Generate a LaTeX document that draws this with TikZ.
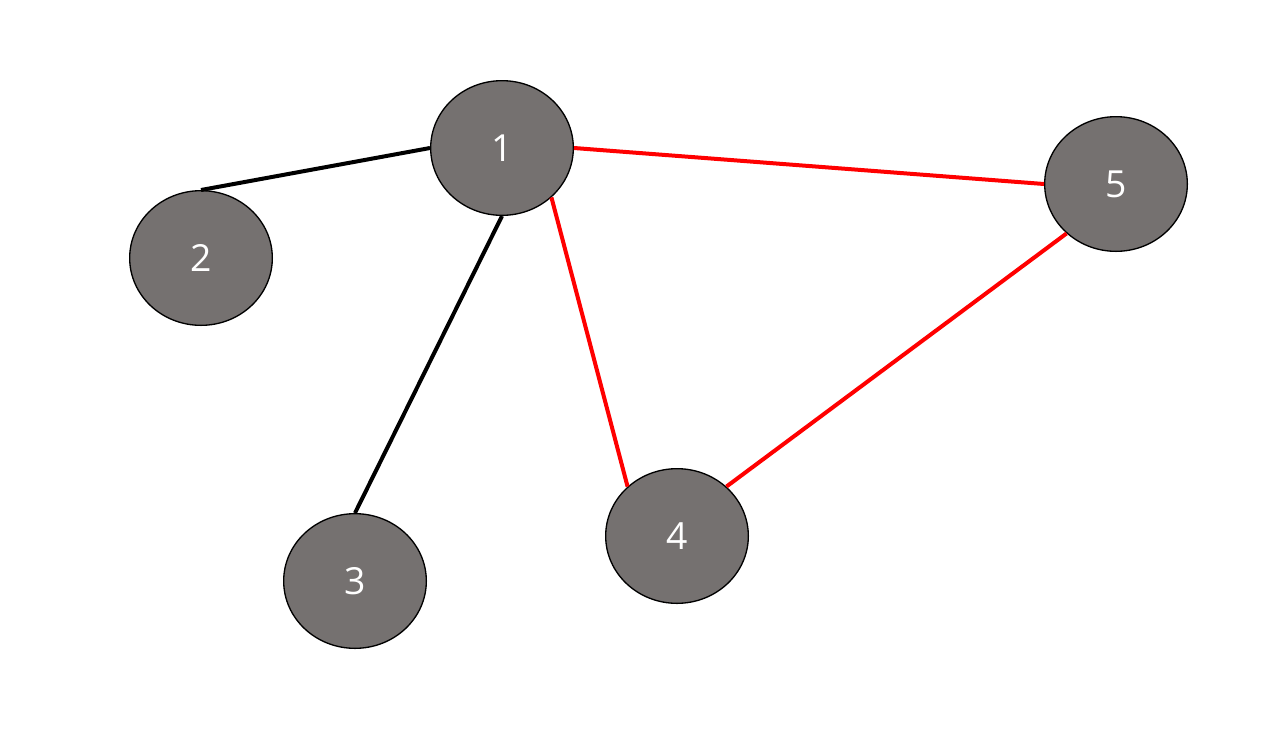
\documentclass[tikz,border=0pt]{standalone}
\usepackage{fontspec}
\setmainfont{Open Sans}
\usetikzlibrary{shapes.geometric}
\definecolor{nodegray}{RGB}{117,113,112}
\definecolor{edgered}{RGB}{255,0,0}
\begin{document}
\begin{tikzpicture}[x=0.75pt,y=-0.75pt,
  vertex/.style={ellipse,draw=black,line width=1pt,fill=nodegray,
    minimum width=107pt,minimum height=101pt,inner sep=0pt,
    text=white,font=\fontsize{28}{32}\selectfont},
  blackedge/.style={draw=black,line width=3pt},
  rededge/.style={draw=edgered,line width=3pt}]
\useasboundingbox (0,0) rectangle (1280,729);
\node[vertex] (n1) at (502,148) {1};
\node[vertex] (n2) at (201,258) {2};
\node[vertex] (n3) at (355,581) {3};
\node[vertex] (n4) at (677,536) {4};
\node[vertex] (n5) at (1116,184) {5};
\draw[blackedge] (n1.west) -- (n2.north);
\draw[blackedge] (n1.south) -- (n3.north);
\draw[rededge] (n1.east) -- (n5.west);
\draw[rededge] (n1.-45) -- (n4.135);
\draw[rededge] (n4.45) -- (n5.-135);
\end{tikzpicture}
\end{document}
